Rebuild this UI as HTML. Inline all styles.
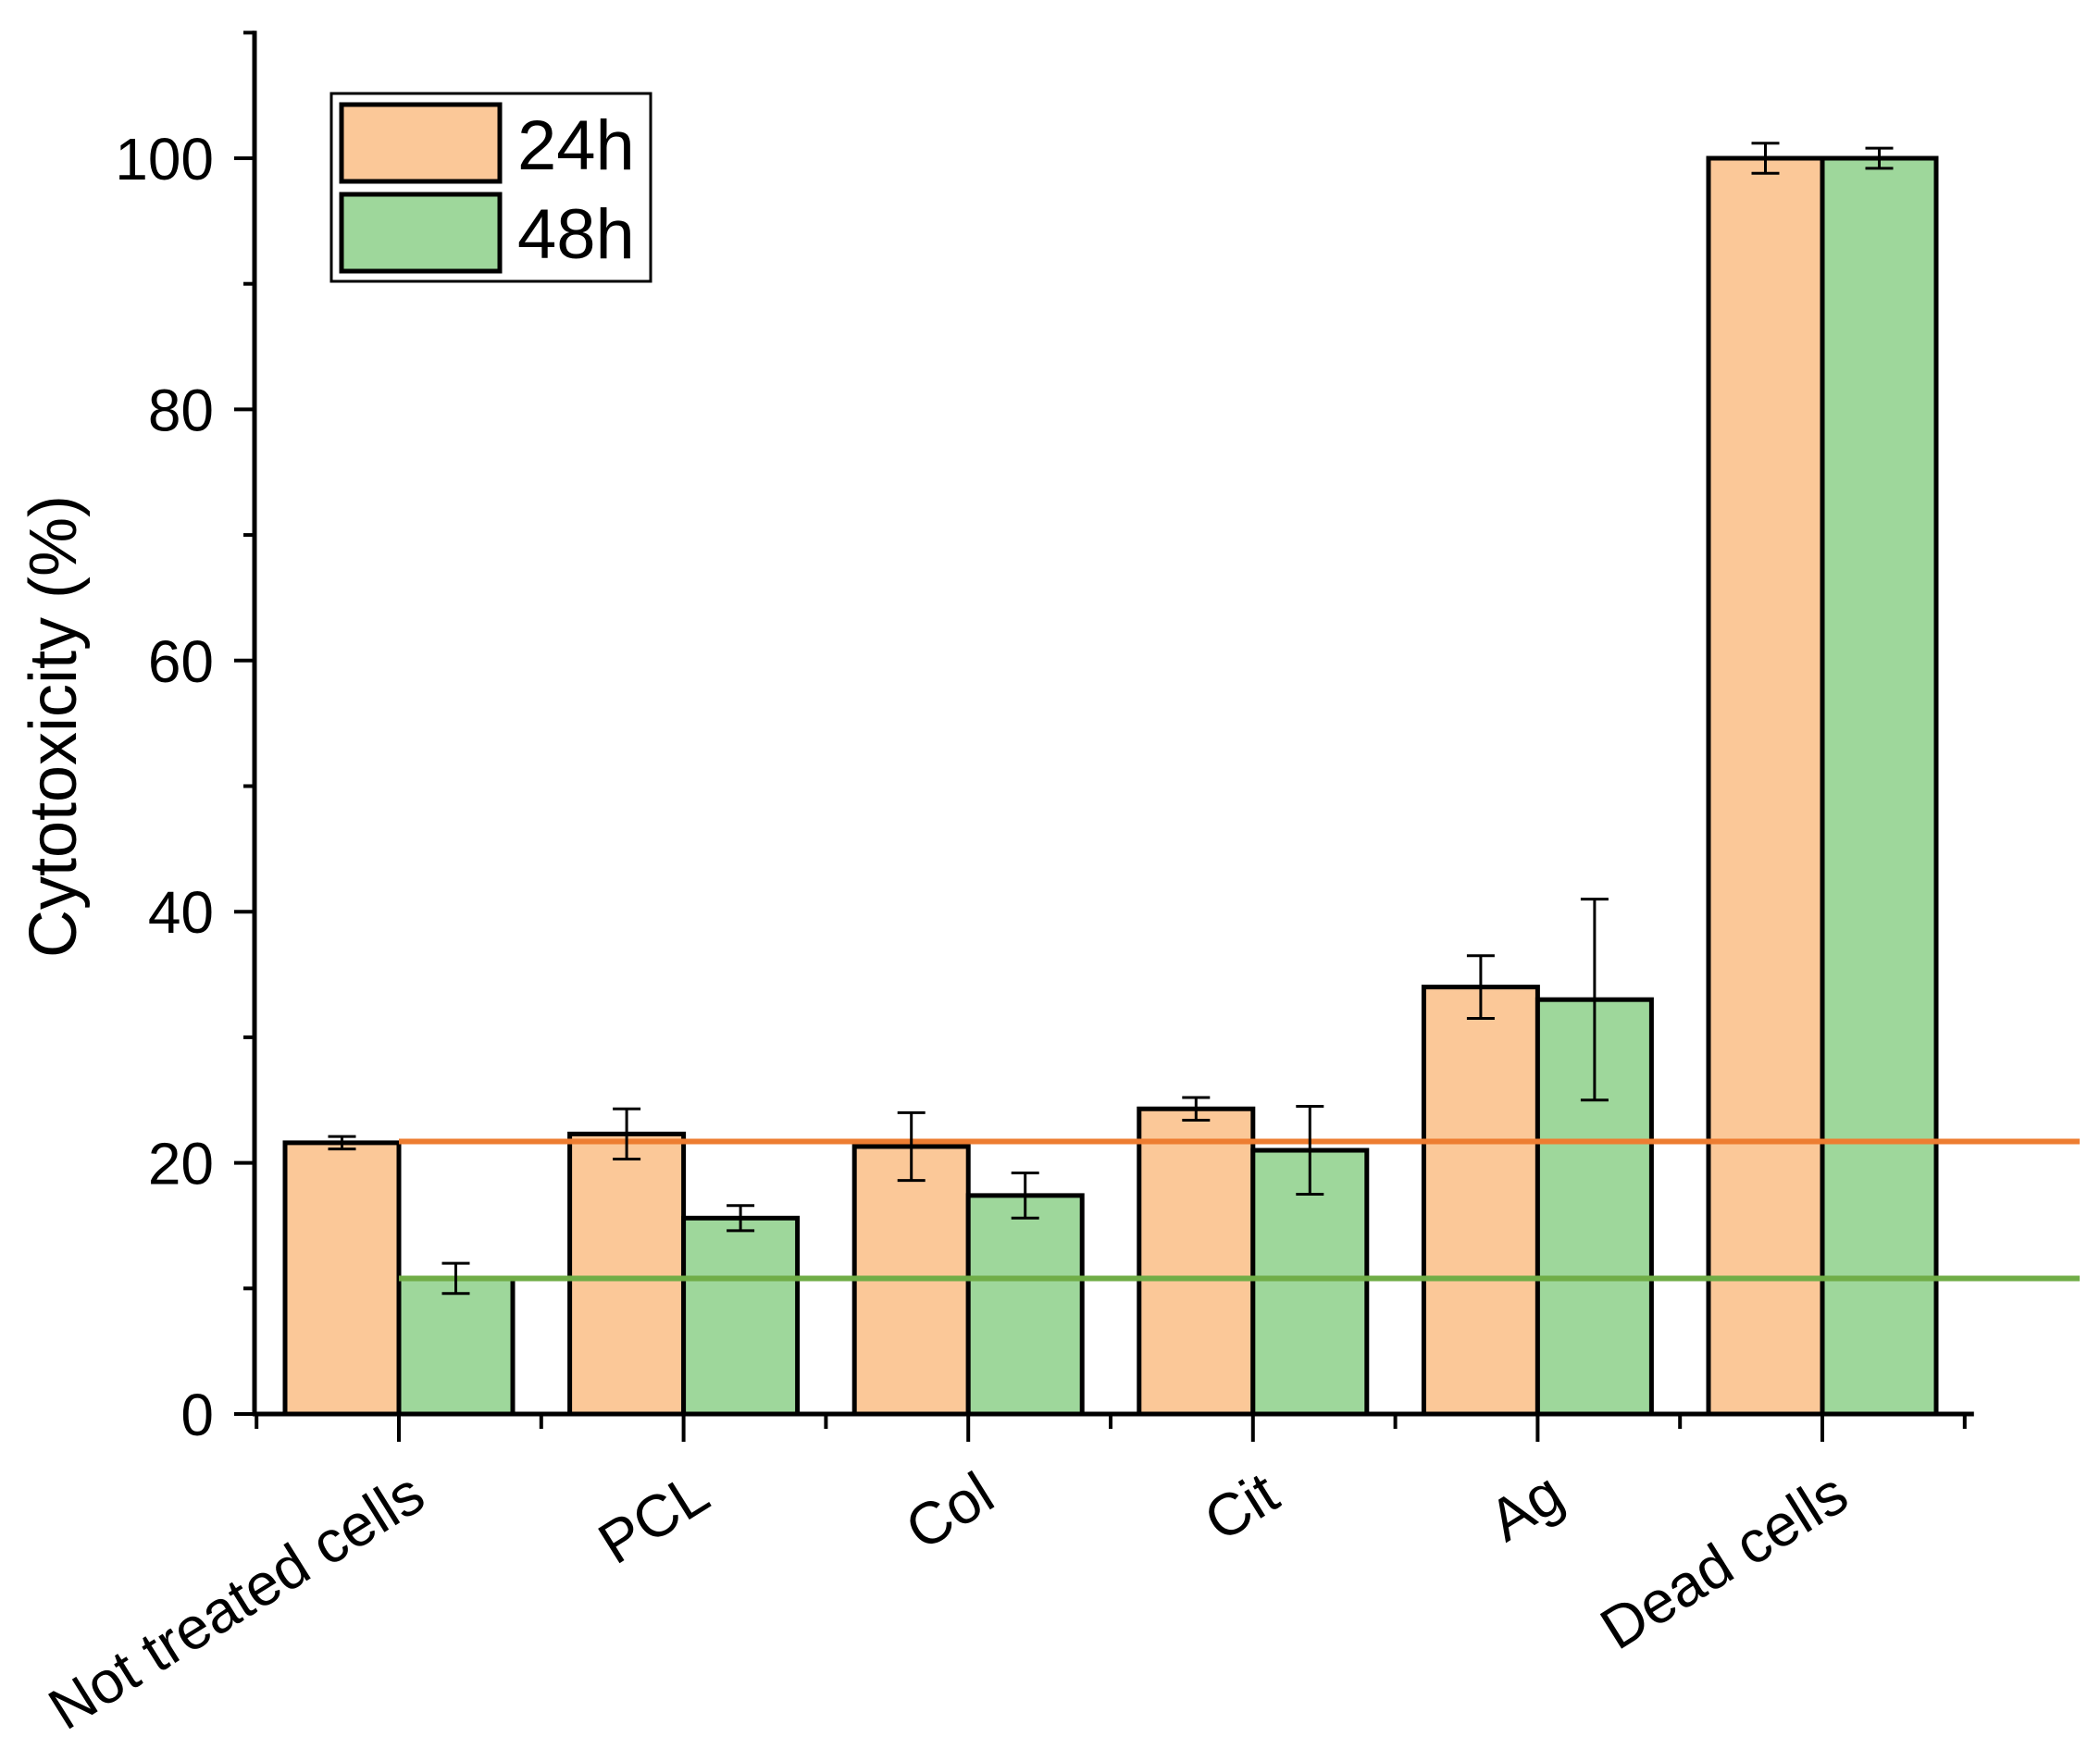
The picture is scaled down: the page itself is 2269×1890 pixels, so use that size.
<!DOCTYPE html>
<html><head><meta charset="utf-8"><style>
html,body{margin:0;padding:0;background:#fff;}
svg{display:block;font-family:"Liberation Sans",Arial,sans-serif;}
</style></head><body>
<svg id="chart" width="2269" height="1890" viewBox="0 0 2269 1890" xmlns="http://www.w3.org/2000/svg">
<g id="plot"></g>
</svg>
<script>
const categories = ["Not treated cells","PCL","Col","Cit","Ag","Dead cells"];
const values24 = [21.6, 22.3, 21.3, 24.3, 34.0, 100.0];
const err24 = [0.5, 2.0, 2.7, 0.9, 2.5, 1.2];
const values48 = [10.8, 15.6, 17.4, 21.0, 33.0, 100.0];
const err48 = [1.2, 1.0, 1.8, 3.5, 8.0, 0.8];
const yTicks = [0, 20, 40, 60, 80, 100];
const ref24 = 21.7;
const ref48 = 10.8;

const NS = "http://www.w3.org/2000/svg";
const g = document.getElementById("plot");
const X0 = 431, DX = 307.6, BW = 123;
const Y0 = 1528, PPU = 13.57;
function xc(i){ return X0 + DX*i; }
function y(v){ return Y0 - v*PPU; }
function mk(tag, attrs, parent){
  const e = document.createElementNS(NS, tag);
  for (const k in attrs) e.setAttribute(k, attrs[k]);
  (parent||g).appendChild(e);
  return e;
}
const ymax = 110;
const xStart = 275, xEnd = xc(categories.length-1) + DX/2;

categories.forEach((c,i)=>{
  const b1 = mk("rect",{x:xc(i)-BW, y:y(values24[i]), width:BW, height:y(0)-y(values24[i]), fill:"#FBC898", stroke:"#000", "stroke-width":5});
  
  
  const b2 = mk("rect",{x:xc(i), y:y(values48[i]), width:BW, height:y(0)-y(values48[i]), fill:"#9ED79B", stroke:"#000", "stroke-width":5});
  
  
});
const l1 = mk("line",{x1:xc(0), x2:2247, y1:y(ref24), y2:y(ref24), stroke:"#ED7D31", "stroke-width":6});


const l2 = mk("line",{x1:xc(0), x2:2247, y1:y(ref48), y2:y(ref48), stroke:"#70AD47", "stroke-width":6});


function errbar(cx, v, e, name){
  const eg = mk("g",{stroke:"#000","stroke-width":3});
  
  
  mk("line",{x1:cx,x2:cx,y1:y(v+e),y2:y(v-e)},eg);
  mk("line",{x1:cx-15,x2:cx+15,y1:y(v+e),y2:y(v+e)},eg);
  mk("line",{x1:cx-15,x2:cx+15,y1:y(v-e),y2:y(v-e)},eg);
}
categories.forEach((c,i)=>{
  errbar(xc(i)-BW/2, values24[i], err24[i], 'error-bar-24h-'+i);
  errbar(xc(i)+BW/2, values48[i], err48[i], 'error-bar-48h-'+i);
});
const ya = mk("line",{x1:xStart,x2:xStart,y1:y(ymax)-2,y2:Y0+2,stroke:"#000","stroke-width":5});


const xa = mk("line",{x1:xStart-2,x2:xEnd+10,y1:Y0,y2:Y0,stroke:"#000","stroke-width":5});


for (let v=0; v<=ymax; v+=10){
  const major = v%20===0;
  const t = mk("line",{x1:xStart-(major?22:12),x2:xStart,y1:y(v),y2:y(v),stroke:"#000","stroke-width":4});
  
  
}
yTicks.forEach(v=>{
  const t = mk("text",{x:xStart-44,y:y(v)+23,"text-anchor":"end","font-size":64,fill:"#000"});
  t.textContent = v;
  
  
});
categories.forEach((c,i)=>{
  const t = mk("line",{x1:xc(i),x2:xc(i),y1:Y0,y2:Y0+30,stroke:"#000","stroke-width":4});
  
  
  const m = mk("line",{x1:xc(i)-DX/2,x2:xc(i)-DX/2,y1:Y0,y2:Y0+16,stroke:"#000","stroke-width":4});
  
  
  const lx = xc(i)+32, ly = 1626;
  const lb = mk("text",{x:lx,y:ly,"text-anchor":"end","font-size":64,fill:"#000",transform:`rotate(-32 ${lx} ${ly})`});
  lb.textContent = c;
  
  
});
const m2 = mk("line",{x1:xEnd,x2:xEnd,y1:Y0,y2:Y0+16,stroke:"#000","stroke-width":4});


const yt = mk("text",{x:82,y:785,"text-anchor":"middle","font-size":72,fill:"#000",transform:"rotate(-90 82 785)"});
yt.textContent = "Cytotoxicity (%)";


const lg = mk("g",{});


mk("rect",{x:358,y:101,width:345,height:203,fill:"#fff",stroke:"#000","stroke-width":3},lg);
const s1 = mk("rect",{x:369,y:113,width:171,height:83,fill:"#FBC898",stroke:"#000","stroke-width":5},lg);


const s2 = mk("rect",{x:369,y:210,width:171,height:83,fill:"#9ED79B",stroke:"#000","stroke-width":5},lg);


const t1 = mk("text",{x:559,y:183,"font-size":76,fill:"#000"},lg);
t1.textContent = "24h";


const t2 = mk("text",{x:559,y:279,"font-size":76,fill:"#000"},lg);
t2.textContent = "48h";


</script>
</body></html>
